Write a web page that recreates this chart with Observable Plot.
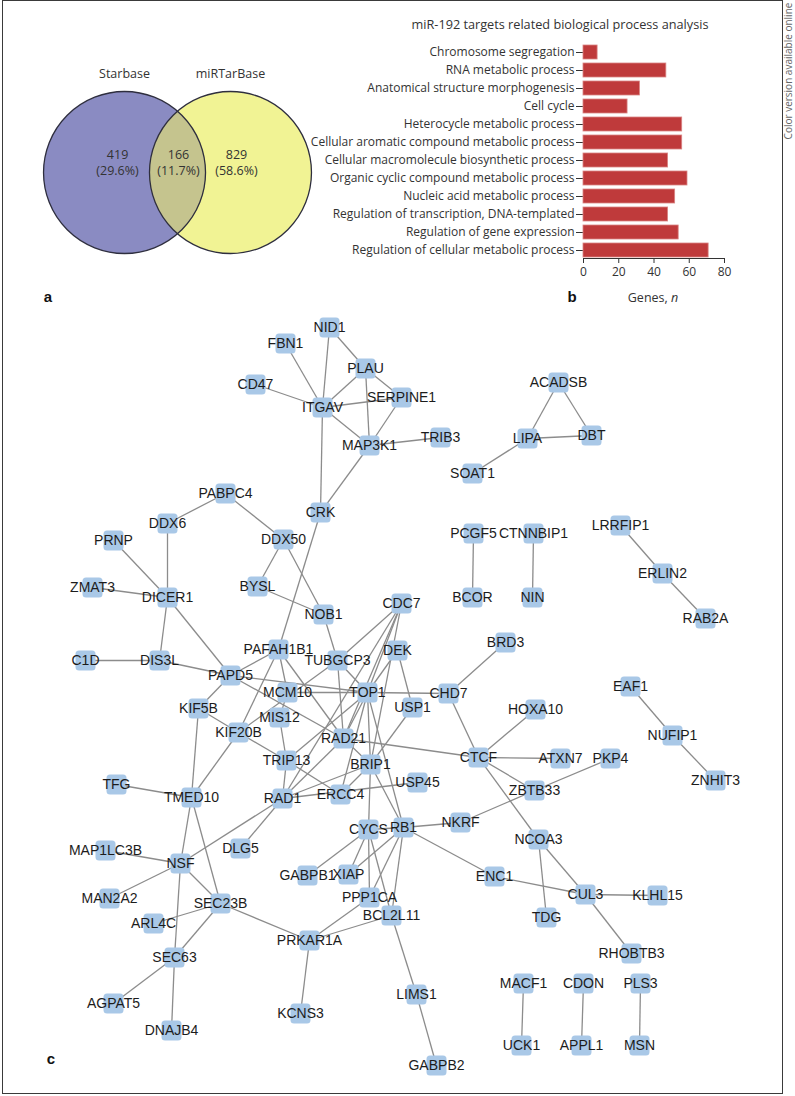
<!DOCTYPE html>
<html>
<head>
<meta charset="utf-8">
<script src="https://cdn.jsdelivr.net/npm/d3@7"></script>
<script src="https://cdn.jsdelivr.net/npm/@observablehq/plot@0.6"></script>
<style>
  body { margin: 0; background: #fff; }
  #fig { position: relative; width: 795px; height: 1096px; overflow: hidden; font-family: "Open Sans", sans-serif; color: #333; }
  #fig svg { position: absolute; overflow: visible; }
  .t { position: absolute; transform: translate(-50%, -50%); white-space: nowrap; line-height: 1.2; }
  .panel { font-family: "Liberation Sans", Arial, sans-serif; font-weight: bold; font-size: 15px; color: #111; }
  #frame { position: absolute; left: 2px; top: 0px; width: 781px; height: 1094px; border: 1.5px solid #3a3a3a; box-sizing: border-box; pointer-events: none; }
  #side { position: absolute; left: 719px; top: 64px; width: 138px; text-align: center; font-size: 10px; line-height: 14px; color: #666; transform: rotate(-90deg); white-space: nowrap; }
</style>
</head>
<body>
<div id="fig">
  <div id="frame"></div>
  <div id="side">Color version available online</div>
</div>
<script>
// ---------------- DATA ----------------
// Panel a: Venn
const vennSets = ["Starbase", "miRTarBase"];
const vennCounts = [419, 166, 829];
const vennPercents = ["29.6%", "11.7%", "58.6%"];

// Panel b: GO biological process bars
const bpTitle = "miR-192 targets related biological process analysis";
const processes = [
  "Chromosome segregation",
  "RNA metabolic process",
  "Anatomical structure morphogenesis",
  "Cell cycle",
  "Heterocycle metabolic process",
  "Cellular aromatic compound metabolic process",
  "Cellular macromolecule biosynthetic process",
  "Organic cyclic compound metabolic process",
  "Nucleic acid metabolic process",
  "Regulation of transcription, DNA-templated",
  "Regulation of gene expression",
  "Regulation of cellular metabolic process"
];
const geneCounts = [8, 47, 32, 25, 56, 56, 48, 59, 52, 48, 54, 71];
const xTicks = [0, 20, 40, 60, 80];

// Panel c: network (node name, layout x, layout y)
const nodes = [
  ["NID1",329,327],["FBN1",285,343],["PLAU",365,368],["CD47",255,384],["ITGAV",322,407],
  ["SERPINE1",401,397],["MAP3K1",369,445],["TRIB3",440,437],["ACADSB",558,382],["LIPA",527,438],
  ["DBT",591,435],["SOAT1",472,473],["CRK",320,512],["PABPC4",225,493],["DDX6",167,523],
  ["DDX50",283,539],["PRNP",113,540],["BYSL",257,586],["ZMAT3",92,587],["DICER1",167,597],
  ["PCGF5",473,533],["CTNNBIP1",533,533],["BCOR",472,597],["NIN",532,597],["LRRFIP1",620,525],
  ["ERLIN2",662,573],["RAB2A",705,618],["NOB1",323,614],["CDC7",401,603],["DEK",397,650],
  ["PAFAH1B1",278,649],["TUBGCP3",337,660],["DIS3L",159,660],["C1D",85,660],["PAPD5",230,675],
  ["MCM10",287,692],["TOP1",367,692],["CHD7",448,693],["BRD3",505,642],["KIF5B",198,708],
  ["USP1",412,707],["HOXA10",535,709],["MIS12",279,717],["KIF20B",238,732],["RAD21",343,738],
  ["TRIP13",286,760],["BRIP1",370,764],["CTCF",478,757],["ATXN7",560,758],["PKP4",610,758],
  ["EAF1",630,686],["NUFIP1",672,735],["ZNHIT3",715,780],["TFG",116,784],["TMED10",191,797],
  ["RAD1",282,798],["ERCC4",340,794],["USP45",417,782],["ZBTB33",534,790],["NKRF",460,822],
  ["RB1",403,827],["CYCS",368,829],["NCOA3",538,839],["DLG5",240,848],["MAP1LC3B",105,850],
  ["NSF",180,863],["GABPB1",307,875],["XIAP",348,874],["ENC1",494,876],["CUL3",585,894],
  ["KLHL15",657,895],["PPP1CA",369,897],["MAN2A2",109,898],["SEC23B",220,903],["BCL2L11",391,915],
  ["TDG",546,917],["ARL4C",153,923],["PRKAR1A",309,940],["RHOBTB3",631,953],["SEC63",174,957],
  ["MACF1",523,983],["CDON",583,983],["PLS3",640,983],["LIMS1",416,994],["AGPAT5",113,1003],
  ["KCNS3",300,1013],["DNAJB4",171,1030],["UCK1",521,1045],["APPL1",581,1045],["MSN",639,1045],
  ["GABPB2",436,1065]
];
const edges = [
  ["NID1","ITGAV"],["NID1","PLAU"],["FBN1","ITGAV"],["CD47","ITGAV"],["PLAU","ITGAV"],["PLAU","SERPINE1"],
  ["PLAU","MAP3K1"],["ITGAV","SERPINE1"],["ITGAV","MAP3K1"],["SERPINE1","MAP3K1"],["MAP3K1","TRIB3"],
  ["ITGAV","CRK"],["MAP3K1","CRK"],["CRK","PAFAH1B1"],
  ["ACADSB","LIPA"],["ACADSB","DBT"],["LIPA","DBT"],["LIPA","SOAT1"],
  ["PABPC4","DDX6"],["PABPC4","DDX50"],["DDX6","DICER1"],["PRNP","DICER1"],["ZMAT3","DICER1"],
  ["DDX50","BYSL"],["DDX50","NOB1"],["BYSL","NOB1"],["NOB1","TUBGCP3"],
  ["DICER1","DIS3L"],["DICER1","PAPD5"],["C1D","DIS3L"],["DIS3L","PAPD5"],
  ["PCGF5","BCOR"],["CTNNBIP1","NIN"],["LRRFIP1","ERLIN2"],["ERLIN2","RAB2A"],
  ["PAPD5","PAFAH1B1"],["PAPD5","TOP1"],["PAPD5","RAD21"],["PAPD5","KIF5B"],
  ["PAFAH1B1","MCM10"],["PAFAH1B1","KIF20B"],["PAFAH1B1","RAD21"],
  ["MCM10","TOP1"],["MCM10","MIS12"],["MIS12","TRIP13"],["TRIP13","RAD1"],
  ["KIF5B","KIF20B"],["KIF20B","TRIP13"],["TRIP13","ERCC4"],["KIF5B","TMED10"],["KIF20B","TMED10"],
  ["KIF20B","TUBGCP3"],["TUBGCP3","TOP1"],["TUBGCP3","RAD21"],
  ["CDC7","TUBGCP3"],["CDC7","TOP1"],["CDC7","RAD21"],["CDC7","BRIP1"],["CDC7","RAD1"],
  ["DEK","TOP1"],["DEK","USP1"],
  ["TOP1","CHD7"],["TOP1","RAD21"],["TOP1","BRIP1"],["TOP1","ERCC4"],["TOP1","TRIP13"],["TOP1","RB1"],
  ["RAD21","CTCF"],["RAD21","BRIP1"],["RAD21","RAD1"],
  ["BRIP1","USP1"],["BRIP1","CYCS"],["BRIP1","RB1"],["BRIP1","ERCC4"],["BRIP1","RAD1"],
  ["RAD1","USP45"],["RAD1","DLG5"],["RAD1","NSF"],
  ["CHD7","BRD3"],["CHD7","CTCF"],["CTCF","HOXA10"],["CTCF","ATXN7"],["CTCF","ZBTB33"],["CTCF","NCOA3"],
  ["ZBTB33","PKP4"],["ZBTB33","NKRF"],["NKRF","RB1"],
  ["RB1","CYCS"],["RB1","ENC1"],["ENC1","CUL3"],["NCOA3","CUL3"],["NCOA3","TDG"],["CUL3","KLHL15"],["CUL3","RHOBTB3"],
  ["RB1","XIAP"],["RB1","PPP1CA"],["RB1","BCL2L11"],
  ["CYCS","GABPB1"],["CYCS","XIAP"],["CYCS","PPP1CA"],["CYCS","BCL2L11"],
  ["PPP1CA","PRKAR1A"],["BCL2L11","PRKAR1A"],["BCL2L11","LIMS1"],["LIMS1","GABPB2"],["PRKAR1A","KCNS3"],
  ["PRKAR1A","SEC23B"],["TMED10","SEC23B"],["TMED10","NSF"],["TFG","TMED10"],
  ["NSF","SEC23B"],["NSF","MAP1LC3B"],["NSF","MAN2A2"],["NSF","SEC63"],
  ["SEC23B","ARL4C"],["SEC23B","SEC63"],["SEC63","AGPAT5"],["SEC63","DNAJB4"],
  ["EAF1","NUFIP1"],["NUFIP1","ZNHIT3"],
  ["MACF1","UCK1"],["CDON","APPL1"],["PLS3","MSN"]
];

// ---------------- LAYOUT (not data) ----------------
const fig = document.getElementById("fig");
function addText(html, x, y, cls, extra) {
  const d = document.createElement("div");
  d.className = "t " + (cls || "");
  d.innerHTML = html;
  d.style.left = x + "px"; d.style.top = y + "px";
  if (extra) Object.assign(d.style, extra);
  fig.appendChild(d);
  return d;
}
function place(svg, left, top) {
  svg.style.left = left + "px"; svg.style.top = top + "px";
  fig.appendChild(svg);
}
const transparent = {background: "transparent", overflow: "visible"};

// ---------------- Panel a: Venn ----------------
const unit = 81;            // px per radius unit
const sep = 0.654;          // half distance between centres (radius units)
const circles = vennSets.map((name, i) => ({name, cx: i === 0 ? -sep : sep, cy: 0}));
const hh = Math.sqrt(1 - sep * sep);
const aL = Math.atan2(hh, sep), aR = Math.PI - aL;
const lens = d3.range(41).map(k => { const t = -aL + 2 * aL * k / 40; return {x: -sep + Math.cos(t), y: Math.sin(t)}; })
  .concat(d3.range(41).map(k => { const t = aR + (2 * Math.PI - 2 * aR) * k / 40; return {x: sep + Math.cos(t), y: Math.sin(t)}; }));
const regionX = [-0.74, 0.012, 0.728];
const vennNumbers = vennCounts.map((c, i) => ({x: regionX[i], y: 0.136, label: `${c}\n(${vennPercents[i]})`}));
const vennNames = circles.map(c => ({x: c.cx, y: 1.21, label: c.name}));

const venn = Plot.plot({
  width: 340, height: 290, margin: 0,
  x: {domain: [-177 / unit, 163 / unit], axis: null},
  y: {domain: [-118 / unit, 172 / unit], axis: null},
  style: {...transparent, fontFamily: "Open Sans", fontSize: "12.5px", color: "#333"},
  marks: [
    Plot.dot([circles[0]], {x: "cx", y: "cy", r: unit, fill: "#8a8bc2", stroke: "none"}),
    Plot.dot([circles[1]], {x: "cx", y: "cy", r: unit, fill: "#f1f394", stroke: "none"}),
    Plot.line(lens, {x: "x", y: "y", fill: "#c5c48e", stroke: "none", curve: "linear-closed"}),
    Plot.dot(circles, {x: "cx", y: "cy", r: unit, fill: "none", stroke: "#2e2e3e", strokeWidth: 1.3}),
    Plot.text(vennNames, {x: "x", y: "y", text: "label", fill: "#333", fontSize: 12.5}),
    Plot.text(vennNumbers, {x: "x", y: "y", text: "label", fill: "#333", fontSize: 12.5, lineHeight: 1.28})
  ]
});
place(venn, 0, 0);
addText("a", 48, 297, "panel");

// ---------------- Panel b: bars ----------------
const bars = processes.map((p, i) => ({process: p, genes: geneCounts[i]}));
const barChart = Plot.plot({
  width: 445, height: 288,
  marginLeft: 273, marginRight: 31, marginTop: 44, marginBottom: 30,
  style: {...transparent, fontFamily: "Open Sans", fontSize: "12px", color: "#333"},
  x: {domain: [0, 80], ticks: xTicks, tickSize: 5, tickPadding: 4, line: true, label: null},
  y: {domain: processes, paddingInner: 0.25, paddingOuter: 0.06, tickSize: 7, tickPadding: 2, label: null},
  marks: [
    Plot.barX(bars, {x: "genes", y: "process", fill: "#bf3a3b", stroke: "#d98483", strokeWidth: 0.8})
  ]
});
place(barChart, 310, 0);
addText(bpTitle, 560, 25, "", {fontSize: "12.7px", color: "#333"});
addText("Genes, <i>n</i>", 653, 297, "", {fontSize: "12.5px", color: "#333"});
addText("b", 572, 297, "panel");

// ---------------- Panel c: network ----------------
const nodeRows = nodes.map(([name, x, y]) => ({name, x, y}));
const byName = new Map(nodeRows.map(n => [n.name, n]));
const edgeRows = edges.map(([a, b]) => ({x1: byName.get(a).x, y1: byName.get(a).y, x2: byName.get(b).x, y2: byName.get(b).y}));
const roundSquare = {
  draw(ctx, size) {
    const s = Math.sqrt(size) / 2, c = 3.5;
    ctx.moveTo(-s + c, -s);
    ctx.lineTo(s - c, -s); ctx.arcTo(s, -s, s, -s + c, c);
    ctx.lineTo(s, s - c); ctx.arcTo(s, s, s - c, s, c);
    ctx.lineTo(-s + c, s); ctx.arcTo(-s, s, -s, s - c, c);
    ctx.lineTo(-s, -s + c); ctx.arcTo(-s, -s, -s + c, -s, c);
    ctx.closePath();
  }
};
const net = Plot.plot({
  width: 795, height: 800, margin: 0,
  x: {domain: [0, 795], range: [0, 795], axis: null},
  y: {domain: [290, 1090], range: [0, 800], axis: null},
  style: {...transparent},
  marks: [
    Plot.link(edgeRows, {x1: "x1", y1: "y1", x2: "x2", y2: "y2", stroke: "#8c8c8c", strokeWidth: 1.3}),
    Plot.dot(nodeRows, {x: "x", y: "y", r: 20 / Math.sqrt(Math.PI), symbol: roundSquare, fill: "#a9c8e7", stroke: "none"}),
    Plot.text(nodeRows, {x: "x", y: "y", text: "name", fontSize: 14, fontFamily: "Liberation Sans, Arial, sans-serif", fill: "#1c1c1c"})
  ]
});
place(net, 0, 290);
addText("c", 51, 1059, "panel");
</script>
</body>
</html>
